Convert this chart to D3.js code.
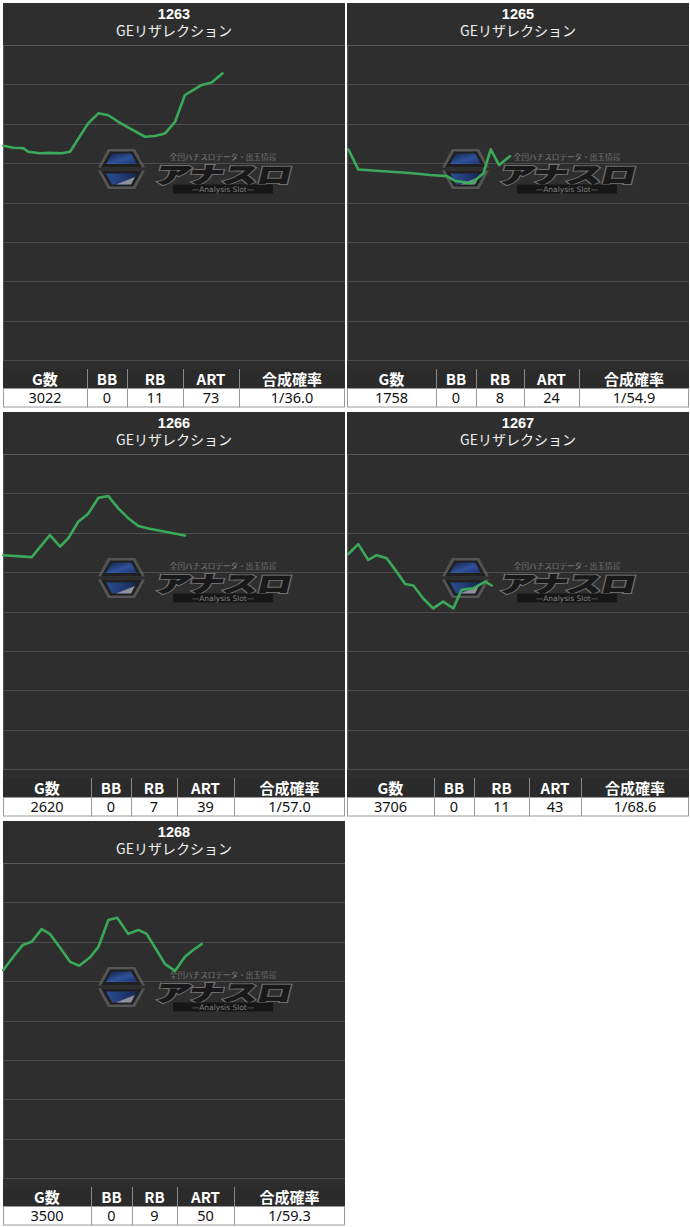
<!DOCTYPE html>
<html><head><meta charset="utf-8">
<script src="https://cdn.jsdelivr.net/npm/d3@7/dist/d3.min.js"></script>
<style>body{margin:0;background:#fff}svg{display:block}</style>
</head><body>
<script>
// ---------- data ----------
const machineIds = ["1263","1265","1266","1267","1268"];
const machineName = "GEリザレクション";
const headers = ["G数","BB","RB","ART","合成確率"];
const games = [3022,1758,2620,3706,3500];
const bbCounts = [0,0,0,0,0];
const rbCounts = [11,8,7,11,9];
const artCounts = [73,24,39,43,50];
const rates = ["1/36.0","1/54.9","1/57.0","1/68.6","1/59.3"];
const yTicks = [3000,2000,1000,0,-1000,-2000,-3000,-4000,-5000];

// slump series (x: progress units 0-1000, y: coin difference)
const x1263 = [1,30,59,74,108,137,172,196,249,279,308,337,371,415,444,474,503,532,556,581,610,642];
const y1263 = [440,390,380,290,250,260,250,290,1010,1265,1215,1050,885,670,690,755,1050,1730,1855,1985,2045,2280];
const x1265 = [4,33,96,184,243,292,316,365,399,420,445,477];
const y1265 = [350,-160,-200,-250,-300,-330,-450,-510,-260,350,-50,180];
const x1266 = [1,84,137,167,191,220,249,279,308,337,366,396,425,532];
const y1266 = [430,380,940,650,860,1280,1480,1890,1930,1620,1370,1170,1110,930];
const x1267 = [4,33,62,87,116,140,170,194,223,252,281,311,335,369,404,423];
const y1267 = [460,710,310,430,350,70,-300,-340,-670,-920,-750,-920,-450,-410,-240,-340];
const x1268 = [1,30,58,84,113,137,167,196,223,254,279,308,334,366,396,420,449,474,503,532,556,581];
const y1268 = [280,620,920,1000,1320,1200,850,490,390,600,870,1550,1610,1200,1300,1200,790,430,260,620,790,940];
const seriesX = [x1263,x1265,x1266,x1267,x1268];
const seriesY = [y1263,y1265,y1266,y1267,y1268];

// ---------- layout ----------
const colWidths = [
  [84,40,56,56,106],
  [89,40,48,55,110],
  [88,40,46,57,111],
  [87,40,55,52,108],
  [88,41,45,57,111]
];
const W = 690, H = 1227;
const svg = d3.select("body").append("svg").attr("width",W).attr("height",H);
svg.append("rect").attr("width",W).attr("height",H).attr("fill","#fff");

const defs = svg.append("defs");
const g1 = defs.append("linearGradient").attr("id","hexTop").attr("x1","0").attr("y1","0").attr("x2","1").attr("y2","1");
g1.append("stop").attr("offset","0").attr("stop-color","#0b1a4a");
g1.append("stop").attr("offset","0.55").attr("stop-color","#2f62c8");
g1.append("stop").attr("offset","1").attr("stop-color","#17348a");
const g2 = defs.append("linearGradient").attr("id","hexBot").attr("x1","0").attr("y1","0").attr("x2","1").attr("y2","0");
g2.append("stop").attr("offset","0").attr("stop-color","#2a5cc0");
g2.append("stop").attr("offset","1").attr("stop-color","#0e2466");

const PW = 342;
machineIds.forEach((id,i)=>{
  const col = i%2, row = Math.floor(i/2);
  const px = col ? 347 : 3, py = 3 + row*409;
  const g = svg.append("g");
  // background
  g.append("rect").attr("x",px).attr("y",py).attr("width",PW).attr("height",382).attr("fill","#2e2e2e");
  // titles
  g.append("text").attr("x",px+PW/2).attr("y",py+15.5).attr("text-anchor","middle")
    .attr("font-family","Liberation Sans, Arial, sans-serif").attr("font-weight","bold")
    .attr("font-size",14.5).attr("fill","#fff").text(id);
  g.append("text").attr("x",px+PW/2).attr("y",py+33).attr("text-anchor","middle")
    .attr("font-family","Noto Sans CJK JP, sans-serif").attr("font-size",14)
    .attr("fill","#f0f0f0").text(machineName);

  const x = d3.scaleLinear().domain([0,1000]).range([px, px+PW]);
  const y = d3.scaleLinear().domain([-5000,3000]).range([py+357, py+42]);

  // grid
  g.selectAll(".grid").data(yTicks).enter().append("line")
    .attr("x1",px).attr("x2",px+PW)
    .attr("y1",d=>Math.round(y(d))+0.5).attr("y2",d=>Math.round(y(d))+0.5)
    .attr("stroke",(d,k)=>k===0?"#5a5a5a":"#4d4d4d").attr("stroke-width",1.2);
  g.append("line").attr("x1",px+0.5).attr("x2",px+0.5).attr("y1",y(3000)).attr("y2",y(-5000))
    .attr("stroke","#555");

  // watermark
  const wm = g.append("g").attr("opacity",0.7).attr("transform",`translate(${px+95},${py+166})`);
  wm.append("path").attr("d","M0,-1.5 L10,-20 L37,-20 L47,-1.5 Z").attr("fill","#666");
  wm.append("path").attr("d","M0,1.5 L47,1.5 L37,20 L10,20 Z").attr("fill","#666");
  wm.append("path").attr("d","M3,-1.5 L12,-17.5 L35,-17.5 L44,-1.5 Z").attr("fill","#1b1b1b");
  wm.append("path").attr("d","M3,1.5 L44,1.5 L35,17.5 L12,17.5 Z").attr("fill","#1b1b1b");
  wm.append("path").attr("d","M8,-5 L14,-15.5 L33,-15.5 L39,-5 Z").attr("fill","url(#hexTop)");
  wm.append("path").attr("d","M8,4.5 L39,4.5 L33,15.5 L14,15.5 Z").attr("fill","url(#hexBot)");
  wm.append("path").attr("d","M18,15.5 L37,8 L33,15.5 Z").attr("fill","#b8bcc8");
  wm.append("text").attr("x",125).attr("y",-9).attr("text-anchor","middle")
    .attr("font-family","Noto Sans CJK JP, sans-serif").attr("font-weight","bold").attr("font-size",7.6)
    .attr("fill","#a0a0a0").attr("stroke","#222").attr("stroke-width",0.3).text("全国パチスロデータ・出玉情報");
  wm.append("text").attr("transform","translate(124,13.5) skewX(-14) scale(1.55,1)").attr("text-anchor","middle")
    .attr("font-family","Noto Sans CJK JP, sans-serif").attr("font-weight","bold").attr("font-size",22)
    .attr("fill","#111").attr("stroke","#8c8c8c").attr("stroke-width",3.2).attr("paint-order","stroke")
    .attr("stroke-linejoin","miter").text("アナスロ");
  wm.append("text").attr("transform","translate(124,13.5) skewX(-14) scale(1.55,1)").attr("text-anchor","middle")
    .attr("font-family","Noto Sans CJK JP, sans-serif").attr("font-weight","bold").attr("font-size",22)
    .attr("fill","#111").attr("stroke","#111").attr("stroke-width",1.4).text("アナスロ");
  wm.append("rect").attr("x",75).attr("y",15.5).attr("width",100).attr("height",9).attr("fill","#0d0d0d");
  wm.append("text").attr("x",125).attr("y",23).attr("text-anchor","middle")
    .attr("font-family","DejaVu Sans, sans-serif").attr("font-size",7.5).attr("fill","#a0a0a0")
    .text("—Analysis Slot—");

  // line
  const pts = seriesX[i].map((v,k)=>[v, seriesY[i][k]]);
  g.append("path").datum(pts)
    .attr("d", d3.line().x(d=>x(d[0])).y(d=>y(d[1])))
    .attr("fill","none").attr("stroke","#3aa95a").attr("stroke-width",2.6)
    .attr("stroke-linejoin","round").attr("stroke-linecap","round");

  // table
  const ty = py+366, hh = 19, dh = 19.5;
  const values = [games[i], bbCounts[i], rbCounts[i], artCounts[i], rates[i]];
  let cx = px;
  const cols = colWidths[i].map(w=>{ const c = {x:cx, w}; cx += w; return c; });
  cols[cols.length-1].w = px+PW - cols[cols.length-1].x;
  g.append("rect").attr("x",px).attr("y",ty).attr("width",PW).attr("height",hh).attr("fill","#2b2b2b");
  g.append("rect").attr("x",px+0.5).attr("y",ty+hh+0.5).attr("width",PW-1).attr("height",dh-1)
    .attr("fill","#fff").attr("stroke","#9a9a9a");
  cols.forEach((c,k)=>{
    if(k>0){
      g.append("line").attr("x1",c.x+0.5).attr("x2",c.x+0.5).attr("y1",ty).attr("y2",ty+hh)
        .attr("stroke","#8a8a8a");
      g.append("line").attr("x1",c.x+0.5).attr("x2",c.x+0.5).attr("y1",ty+hh).attr("y2",ty+hh+dh)
        .attr("stroke","#9a9a9a");
    }
    g.append("text").attr("x",c.x+c.w/2).attr("y",ty+15.5).attr("text-anchor","middle")
      .attr("font-family","Noto Sans CJK JP, sans-serif").attr("font-weight","bold").attr("font-size",15)
      .attr("fill","#fff").text(headers[k]);
    g.append("text").attr("x",c.x+c.w/2).attr("y",ty+hh+15).attr("text-anchor","middle")
      .attr("font-family","Noto Sans, sans-serif").attr("font-size",14.5)
      .attr("fill","#111").text(values[k]);
  });
});
</script>
</body></html>
